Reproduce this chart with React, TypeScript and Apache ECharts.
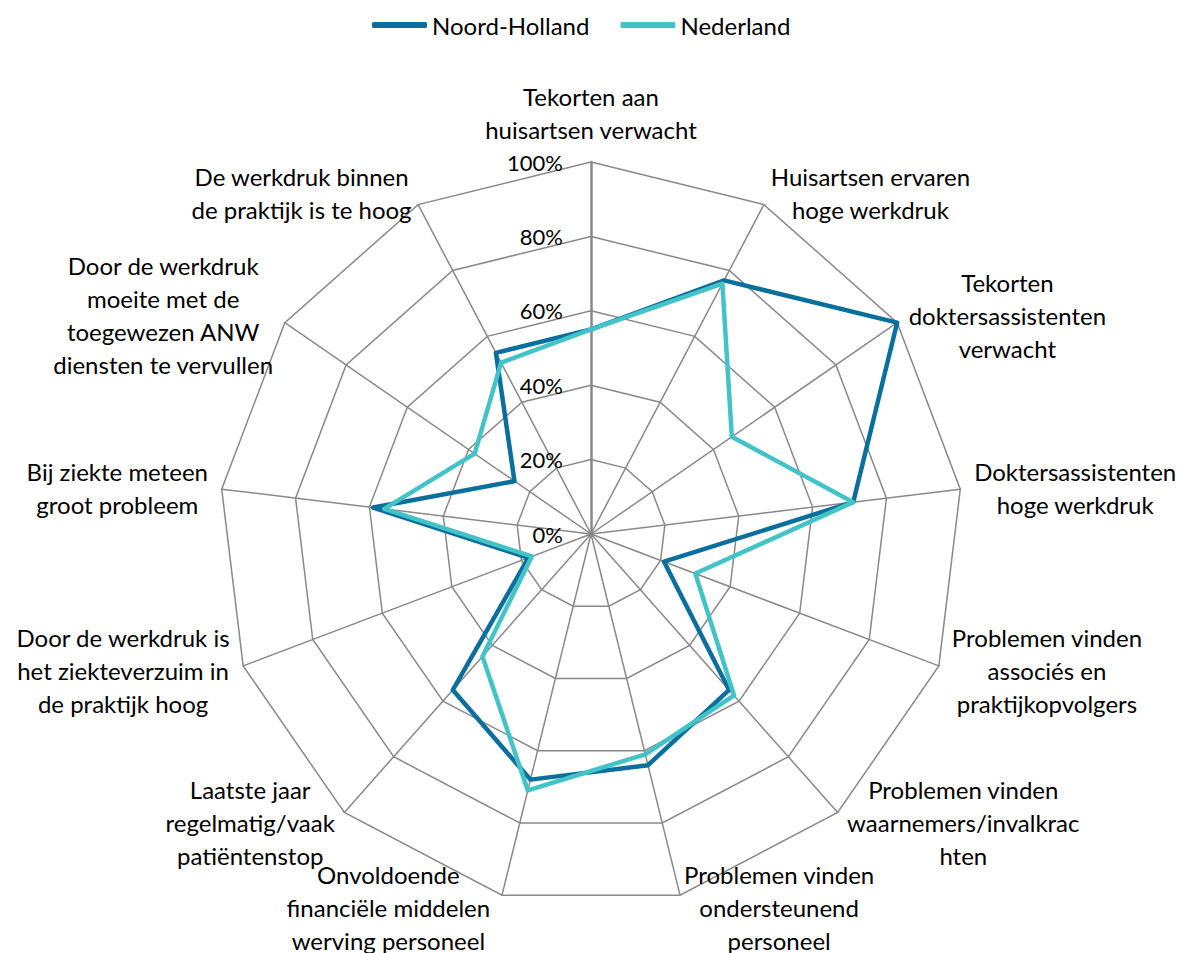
import React, { useEffect, useRef } from "react";
import * as echarts from "echarts";

const categories = [
  "Tekorten aan\nhuisartsen verwacht",
  "Huisartsen ervaren\nhoge werkdruk",
  "Tekorten\ndoktersassistenten\nverwacht",
  "Doktersassistenten\nhoge werkdruk",
  "Problemen vinden\nassociés en\npraktijkopvolgers",
  "Problemen vinden\nwaarnemers/invalkrac\nhten",
  "Problemen vinden\nondersteunend\npersoneel",
  "Onvoldoende\nfinanciële middelen\nwerving personeel",
  "Laatste jaar\nregelmatig/vaak\npatiëntenstop",
  "Door de werkdruk is\nhet ziekteverzuim in\nde praktijk hoog",
  "Bij ziekte meteen\ngroot probleem",
  "Door de werkdruk\nmoeite met de\ntoegewezen ANW\ndiensten te vervullen",
  "De werkdruk binnen\nde praktijk is te hoog",
];

const noordHolland = [55, 77, 100, 71, 21, 56, 64, 68, 56, 18, 59, 25, 55];
const nederland = [55, 76, 46, 71, 30, 58, 61, 71, 44, 17, 56, 38, 52];

const seriesNames = ["Noord-Holland", "Nederland"];
const seriesColors = ["#0b6f9e", "#43c3c8"];

const FONT = "Lato";
const FS = 24;
const LH = 33;

function measure(text: string): number {
  const c = document.createElement("canvas").getContext("2d")!;
  c.font = `${FS}px ${FONT}`;
  return Math.max(...text.split("\n").map((l) => c.measureText(l).width));
}

export default function App() {
  const ref = useRef<HTMLDivElement>(null);
  useEffect(() => {
    document.body.style.margin = "0";
    const chart = echarts.init(ref.current!, null, { renderer: "svg" });
    // clockwise order: first at top, then the rest reversed (ECharts draws counter-clockwise)
    const order = [0, ...categories.map((_, i) => i).slice(1).reverse()];
    const rich: Record<string, any> = {};
    const indicator = order.map((idx, k) => {
      const key = "c" + idx;
      rich[key] = {
        width: Math.ceil(measure(categories[idx])) + 1,
        align: "center",
        fontFamily: FONT,
        fontSize: FS,
        lineHeight: LH,
        color: "#000",
      };
      const name = categories[idx]
        .split("\n")
        .map((l) => `{${key}|${l}}`)
        .join("\n");
      const ind: any = { name, min: 0, max: 100, nameGap: 13 };
      if (idx === 7) {
        ind.nameTextStyle = { padding: [0, 8, 0, 0] };
      }
      if (k === 0) {
        ind.nameGap = 16;
        ind.axisLabel = {
          show: true,
          formatter: "{value}%",
          fontFamily: FONT,
          fontSize: FS - 2,
          color: "#000",
          align: "right",
          margin: 28,
        };
        ind.axisLine = { lineStyle: { color: "#898989", width: 2.5 } };
      }
      return ind;
    });

    chart.setOption({
      animation: false,
      backgroundColor: "#fff",
      legend: {
        top: 8,
        left: 367,
        icon: "roundRect",
        itemWidth: 55,
        itemHeight: 6,
        itemGap: 31,
        textStyle: { fontFamily: FONT, fontSize: FS, color: "#000" },
        data: seriesNames,
      },
      radar: {
        center: [591, 534],
        radius: 372,
        startAngle: 90,
        shape: "polygon",
        splitNumber: 5,
        axisName: {
          color: "#000",
          fontFamily: FONT,
          fontSize: FS,
          lineHeight: LH,
          rich,
        },
        axisLine: { lineStyle: { color: "#898989", width: 1.5 } },
        splitLine: { lineStyle: { color: "#898989", width: 1.5 } },
        splitArea: { show: false },
        axisTick: { show: false },
        axisLabel: { show: false },
        indicator,
      },
      series: [
        {
          type: "radar",
          symbol: "none",
          data: [noordHolland, nederland].map((vals, s) => ({
            name: seriesNames[s],
            value: order.map((i) => vals[i]),
            lineStyle: { color: seriesColors[s], width: 4.5 },
            itemStyle: { color: seriesColors[s] },
          })),
        },
      ],
    });
    return () => chart.dispose();
  }, []);
  return <div ref={ref} style={{ width: 1193, height: 953 }} />;
}
